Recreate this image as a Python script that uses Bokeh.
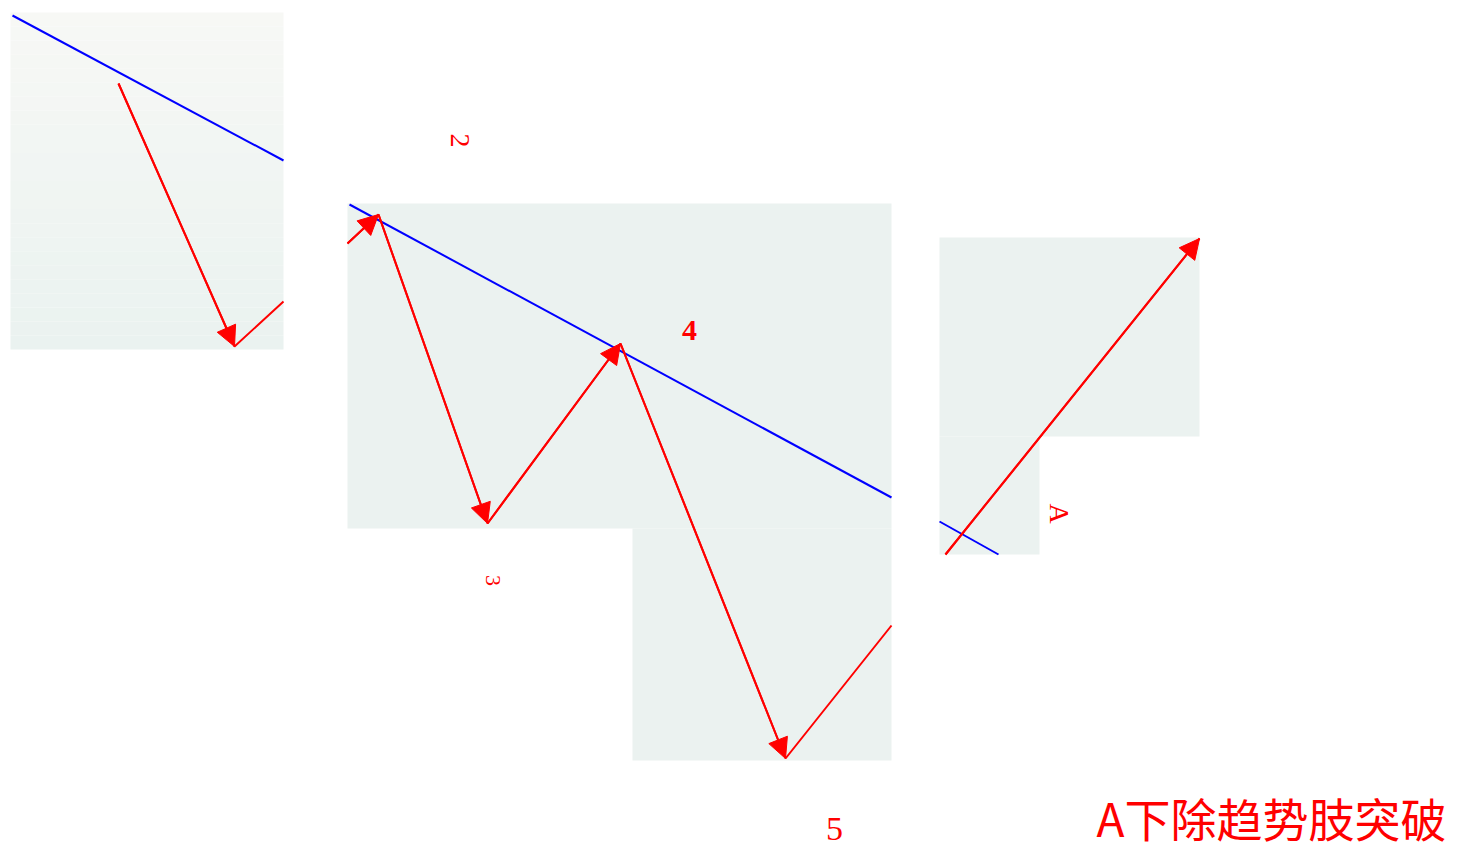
from bokeh.plotting import figure
from bokeh.models import Range1d, ColumnDataSource, Arrow, NormalHead
from bokeh.core.properties import value
from bokeh.embed import file_html
from bokeh.resources import INLINE
import numpy as np

# ---- data (page-pixel coordinates of the diagram) ----
# background tiles
tile_left = [347, 632, 939, 939]
tile_right = [891, 891, 1199, 1039]
tile_top = [203, 528, 237, 436]
tile_bottom = [528, 760, 436, 554]
grad_tile = [10, 283, 12, 349]  # left, right, top, bottom

# trend line pieces (blue)
trend_x0 = [12, 349, 939]
trend_y0 = [15, 204, 521]
trend_x1 = [283, 891, 998]
trend_y1 = [160, 497, 554]

# wave paths (red)
wave1_x = [118, 234, 283]
wave1_y = [83, 346, 301]
wave2_x = [347, 378, 487, 620, 785, 891]
wave2_y = [243, 214, 523, 343, 758, 625]
wave3_x = [945, 1199]
wave3_y = [554, 238]

# arrowed segments (start -> end)
arr_x0 = [118, 347, 378, 487, 620, 945]
arr_y0 = [83, 243, 214, 523, 343, 554]
arr_x1 = [234, 378, 487, 620, 785, 1199]
arr_y1 = [346, 214, 523, 343, 758, 238]

# wave labels
lab_text = ["2", "3", "A"]
lab_x = [459, 492, 1059]
lab_y = [140, 580, 513]
lab_size = ["28px", "22px", "28px"]

W, H = 1462, 849
p = figure(width=W, height=H, output_backend="svg", toolbar_location=None,
           x_range=Range1d(0, W), y_range=Range1d(H, 0),
           min_border=0, outline_line_color=None)
p.axis.visible = False
p.grid.visible = False
p.background_fill_color = "white"
p.border_fill_color = "white"

# gradient tile
l, r, t, b = grad_tile
n = 24
edges = np.linspace(t, b, n + 1)
c_top = np.array([247, 248, 245])
c_bot = np.array([234, 242, 240])
cols = []
for i in range(n):
    f = i / (n - 1)
    c = (c_top * (1 - f) + c_bot * f).round().astype(int)
    cols.append("#%02x%02x%02x" % tuple(c))
p.quad(left=[l] * n, right=[r] * n, top=edges[:-1], bottom=edges[1:],
       fill_color=cols, line_color=None)

p.quad(left=tile_left, right=tile_right, top=tile_top, bottom=tile_bottom,
       fill_color="#ebf2f0", line_color=None)

# trend line
p.segment(x0=trend_x0, y0=trend_y0, x1=trend_x1, y1=trend_y1,
          line_color="#0000ff", line_width=2)

# waves
for xs, ys in [(wave1_x, wave1_y), (wave2_x, wave2_y), (wave3_x, wave3_y)]:
    p.line(xs, ys, line_color="#ff0000", line_width=2)

asrc = ColumnDataSource(dict(x0=arr_x0, y0=arr_y0, x1=arr_x1, y1=arr_y1))
p.add_layout(Arrow(end=NormalHead(size=20, fill_color="#ff0000", line_color="#ff0000"),
                   x_start="x0", y_start="y0", x_end="x1", y_end="y1",
                   source=asrc, line_color="#ff0000", line_width=2))

# rotated labels
for tx, x, y, s in zip(lab_text, lab_x, lab_y, lab_size):
    p.text(x=[x], y=[y], text=[tx], angle=-np.pi / 2, text_color="#ff0000",
           text_font=value("Liberation Serif"), text_font_size=s,
           text_align="center", text_baseline="middle")

p.text(x=[689], y=[330], text=["4"], text_color="#ff0000",
       text_font=value("Liberation Serif"), text_font_size="30px",
       text_font_style="bold", text_align="center", text_baseline="middle")
p.text(x=[834], y=[828], text=["5"], text_color="#ff0000",
       text_font=value("Liberation Serif"), text_font_size="34px",
       text_align="center", text_baseline="middle")

p.text(x=[1096], y=[816], text=["A下除趋势肢突破"], text_color="#ff0000",
       text_font=value("Noto Sans CJK SC"), text_font_size="46px",
       text_align="left", text_baseline="middle")

open("out.html", "w").write(file_html(p, INLINE))
